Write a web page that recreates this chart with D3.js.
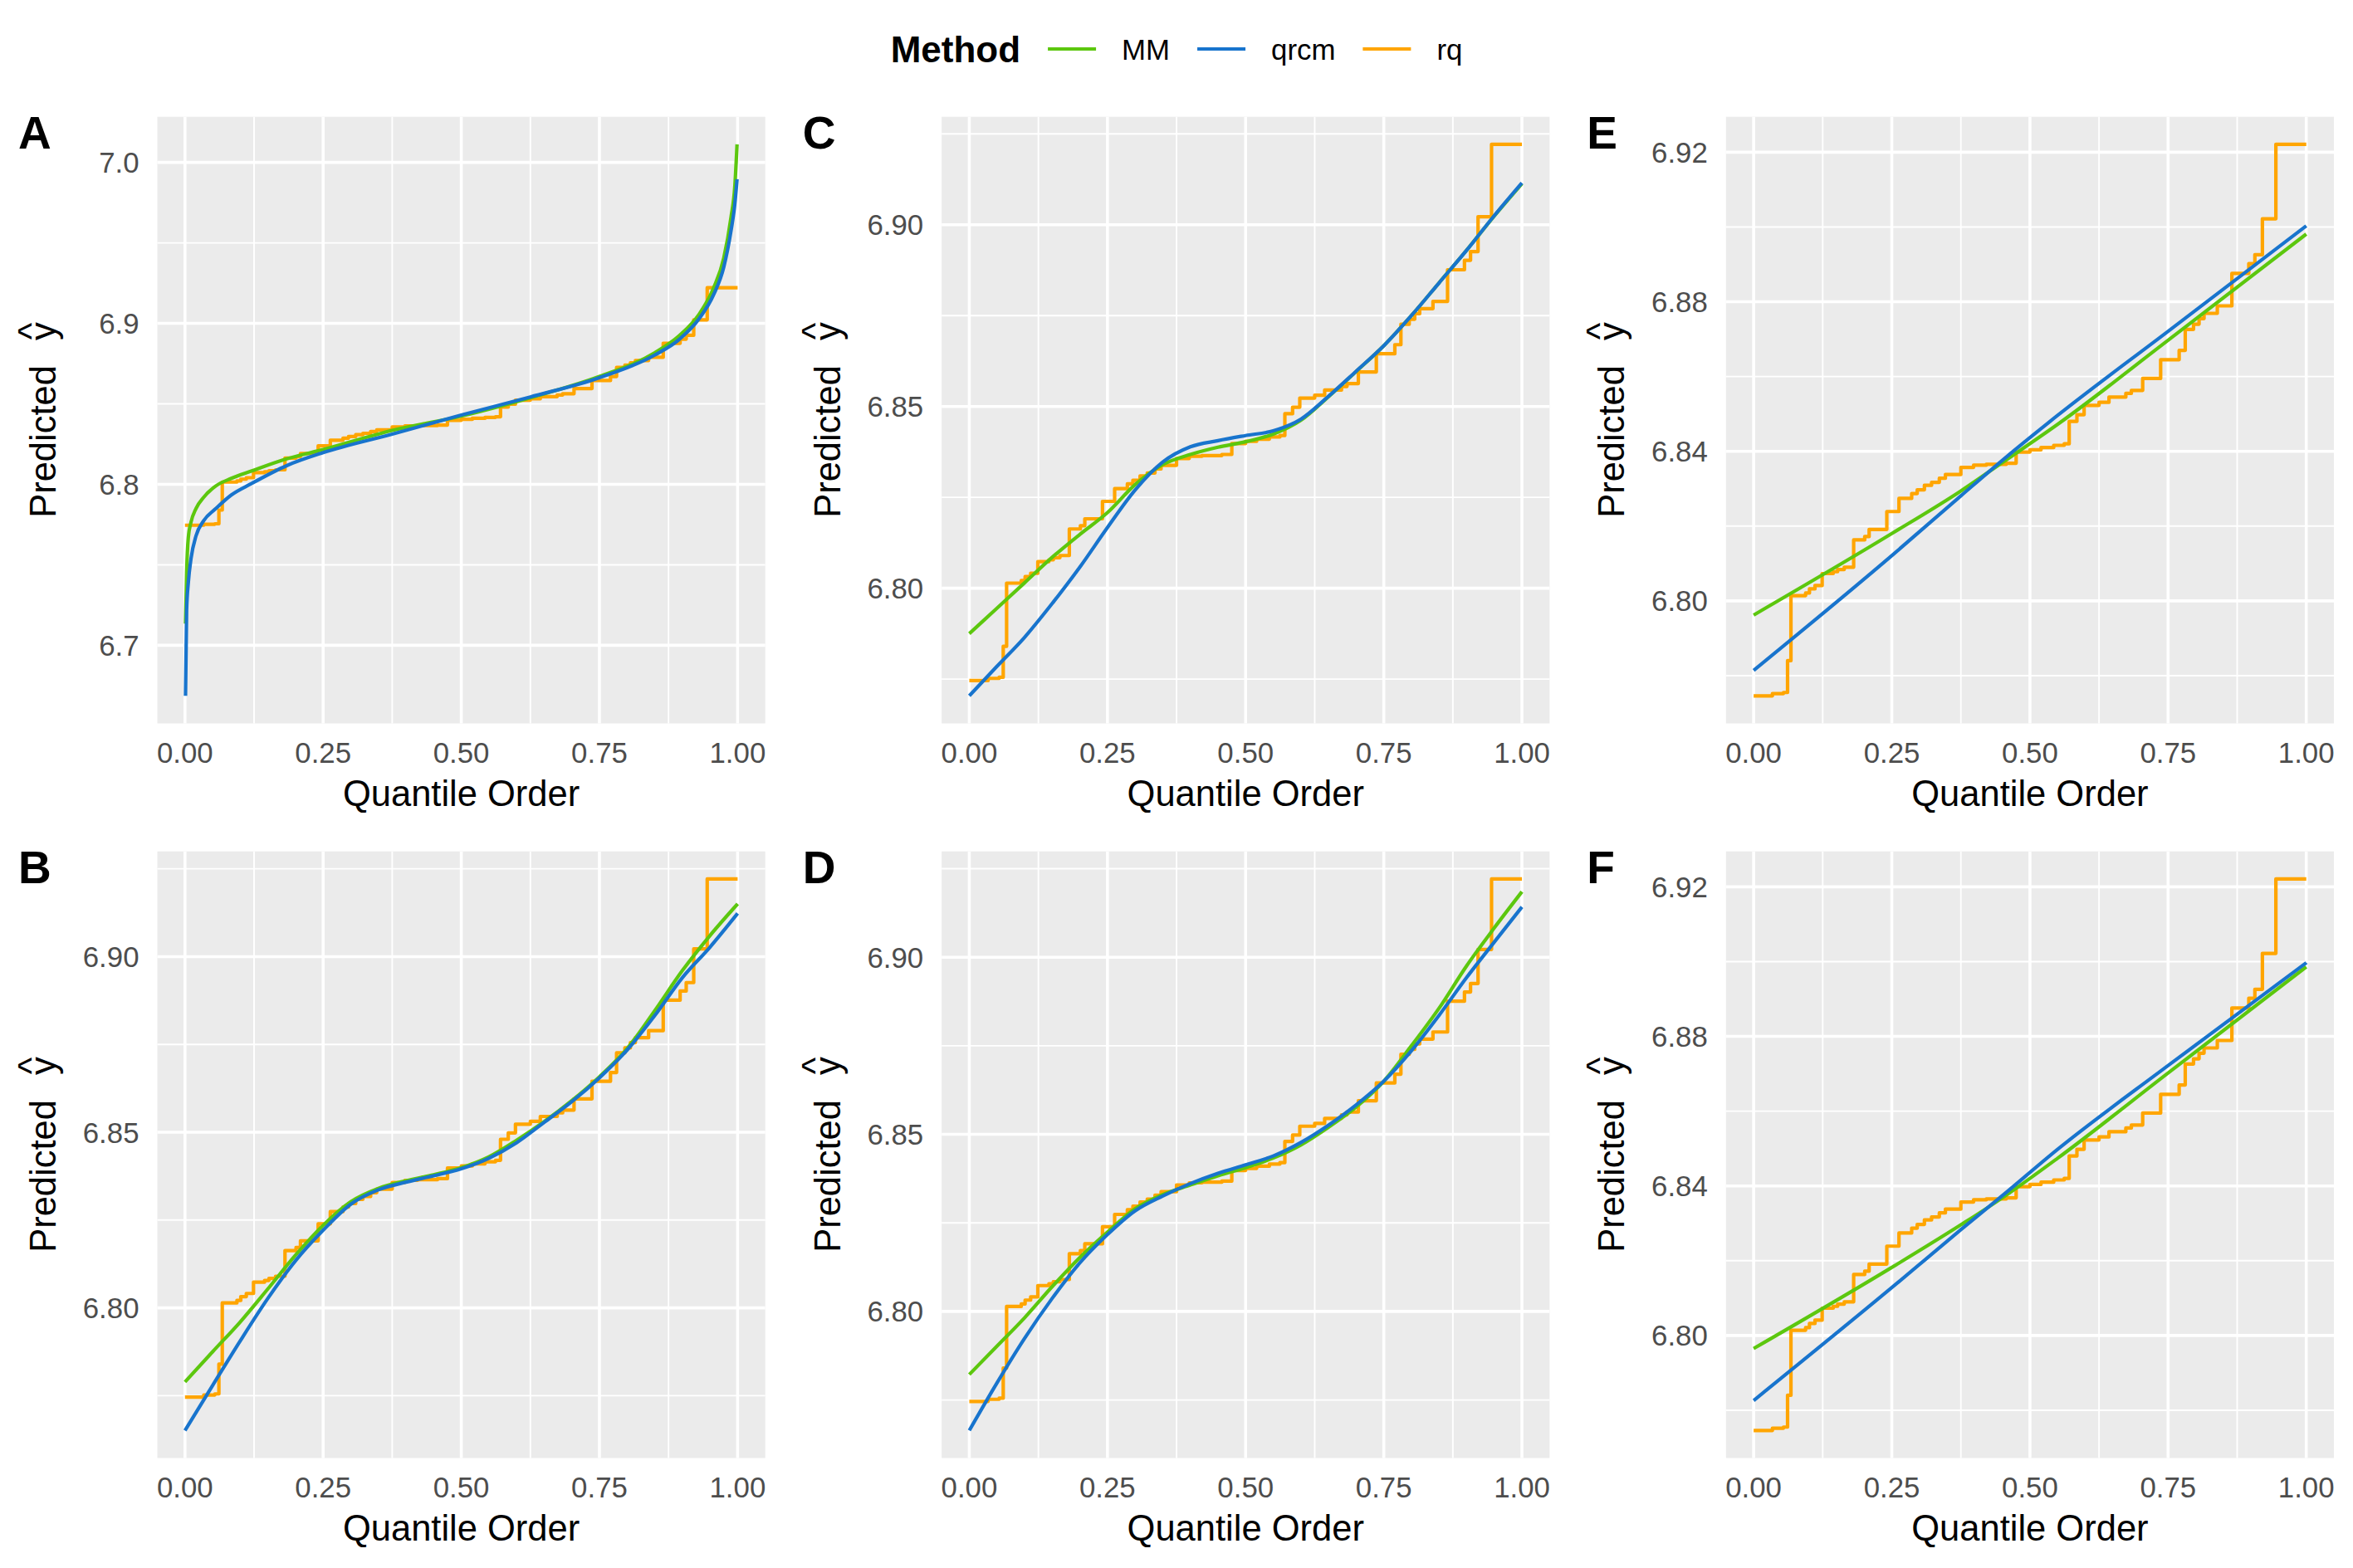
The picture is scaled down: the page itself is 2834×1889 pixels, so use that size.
<!DOCTYPE html>
<html>
<head>
<meta charset="utf-8">
<script src="https://cdn.jsdelivr.net/npm/d3@7"></script>
<style>
  body { margin: 0; background: #ffffff; }
  svg { display: block; }
  text { font-family: "Liberation Sans", Arial, Helvetica, sans-serif; }
</style>
</head>
<body>
<svg id="chart" width="2834" height="1889"></svg>
<script>
// ---------------- DATA ----------------
const methods = ["MM", "qrcm", "rq"];
const legendTitle = "Method";
const panelLabels = ["A", "B", "C", "D", "E", "F"];
const xAxisTitle = "Quantile Order";

const xTickValues = [0, 0.25, 0.5, 0.75, 1];
const xTickLabels = ["0.00", "0.25", "0.50", "0.75", "1.00"];
const xMinorValues = [0.125, 0.375, 0.625, 0.875];

const yTicksA = [6.7, 6.8, 6.9, 7.0];
const yTickLabelsA = ["6.7", "6.8", "6.9", "7.0"];
const yMinorA = [6.65, 6.75, 6.85, 6.95];
const yTicksBCD = [6.80, 6.85, 6.90];
const yTickLabelsBCD = ["6.80", "6.85", "6.90"];
const yMinorBCD = [6.775, 6.825, 6.875, 6.925];
const yTicksEF = [6.80, 6.84, 6.88, 6.92];
const yTickLabelsEF = ["6.80", "6.84", "6.88", "6.92"];
const yMinorEF = [6.78, 6.82, 6.86, 6.90];

// rq : step function (same in every panel)
const rqTau = [0, 0.034, 0.054, 0.0614, 0.0675, 0.094, 0.101, 0.111, 0.124, 0.144,
  0.152, 0.164, 0.181, 0.201, 0.209, 0.241, 0.263, 0.286, 0.296, 0.309,
  0.322, 0.336, 0.347, 0.375, 0.398, 0.421, 0.457, 0.475, 0.500, 0.520,
  0.543, 0.562, 0.571, 0.585, 0.598, 0.625, 0.643, 0.6735, 0.6835, 0.704,
  0.7365, 0.770, 0.781, 0.796, 0.806, 0.815, 0.839, 0.8654, 0.896, 0.907,
  0.9206, 0.945, 1.0];
const rqVal = [6.7746, 6.7752, 6.7755, 6.7840, 6.8014, 6.8021, 6.8032, 6.8041, 6.8073, 6.8078,
  6.8084, 6.8090, 6.8163, 6.8172, 6.8191, 6.8239, 6.8274, 6.8287, 6.8297, 6.8309,
  6.8317, 6.8328, 6.8338, 6.8357, 6.8363, 6.8365, 6.8368, 6.8398, 6.8404, 6.8410,
  6.8416, 6.8420, 6.8480, 6.8498, 6.8523, 6.8531, 6.8545, 6.8555, 6.8563, 6.8595,
  6.8645, 6.8670, 6.8726, 6.8740, 6.8755, 6.8769, 6.8789, 6.8876, 6.8902, 6.8926,
  6.9022, 6.9221, 6.9221];

// Panel A
const tauA = [0.001, 0.003, 0.006, 0.011, 0.02, 0.034, 0.056, 0.084, 0.12, 0.184, 0.25, 0.375,
  0.5, 0.625, 0.75, 0.85, 0.895, 0.93, 0.957, 0.975, 0.988, 0.995, 0.999];
const mmA = [6.7135, 6.745, 6.7667, 6.7766, 6.785, 6.792, 6.799, 6.8037, 6.8082, 6.8158, 6.8216, 6.8335,
  6.8424, 6.8538, 6.8670, 6.8817, 6.8925, 6.9055, 6.9223, 6.9406, 6.9658, 6.9854, 7.0112];
const qrcmA = [6.6686, 6.722, 6.7387, 6.7540, 6.7680, 6.7775, 6.7850, 6.7934, 6.8004, 6.8116, 6.8197, 6.8312,
  6.8430, 6.8543, 6.8663, 6.8803, 6.8902, 6.9027, 6.9181, 6.9350, 6.9574, 6.9742, 6.9896];

// Panels B, C, D
const tauGrid = [0, 0.05, 0.10, 0.15, 0.20, 0.25, 0.30, 0.35, 0.40, 0.45, 0.50,
  0.55, 0.60, 0.65, 0.70, 0.75, 0.80, 0.85, 0.90, 0.95, 1.00];
const mmB = [6.7789, 6.7875, 6.7960, 6.8054, 6.8150, 6.8235, 6.8302, 6.8340, 6.8362, 6.8379, 6.8399,
  6.8430, 6.8477, 6.8530, 6.8590, 6.8658, 6.8738, 6.8846, 6.8960, 6.9060, 6.9150];
const qrcmB = [6.7651, 6.7779, 6.7906, 6.8027, 6.8134, 6.8221, 6.8295, 6.8336, 6.8358, 6.8376, 6.8396,
  6.8426, 6.8470, 6.8528, 6.8587, 6.8655, 6.8734, 6.8832, 6.8940, 6.9027, 6.9123];
const mmC = [6.7875, 6.7945, 6.8015, 6.8085, 6.8148, 6.8208, 6.8285, 6.8340, 6.8368, 6.8388, 6.8403,
  6.8424, 6.8462, 6.8527, 6.8596, 6.8667, 6.8750, 6.8840, 6.8930, 6.9024, 6.9113];
const qrcmC = [6.7704, 6.7785, 6.7865, 6.7958, 6.8058, 6.8167, 6.8270, 6.8347, 6.8389, 6.8406, 6.8420,
  6.8433, 6.8465, 6.8528, 6.8597, 6.8667, 6.8750, 6.8840, 6.8930, 6.9025, 6.9115];
const mmD = [6.7822, 6.7902, 6.7982, 6.8070, 6.8152, 6.8224, 6.8290, 6.8330, 6.8357, 6.8383, 6.8406,
  6.8433, 6.8470, 6.8520, 6.8577, 6.8650, 6.8750, 6.8856, 6.8976, 6.9083, 6.9185];
const qrcmD = [6.7664, 6.7798, 6.7924, 6.8037, 6.8137, 6.8217, 6.8284, 6.8326, 6.8361, 6.8390, 6.8414,
  6.8439, 6.8477, 6.8526, 6.8583, 6.8650, 6.8736, 6.8836, 6.8943, 6.9043, 6.9142];

// Panels E, F
const tauEF = [0, 0.25, 0.375, 0.45, 0.55, 0.75, 1];
const mmE = [6.7962, 6.8180, 6.8294, 6.8370, 6.8472, 6.8697, 6.8981];
const qrcmE = [6.7814, 6.8121, 6.8281, 6.8376, 6.8496, 6.8721, 6.9003];
const mmF = [6.7965, 6.8182, 6.8296, 6.8368, 6.8474, 6.8702, 6.8986];
const qrcmF = [6.7826, 6.8128, 6.8283, 6.8374, 6.8498, 6.8722, 6.8997];

// ---------------- STYLE / LAYOUT ----------------
const colors = { MM: "#5CC70E", qrcm: "#1874CD", rq: "#FFA500" };
const W = 2834, H = 1889;
const colW = W / 3;
const legendH = 119;
const rowH = (H - legendH) / 2;
const PL = 189.5, PR = colW - 23, PT = 21.7, PB = 752.5;
const fsTick = 34.8, fsTitle = 43.5, fsTag = 55, fsLegTitle = 44, fsLegText = 34.8;
const lineW = 4.2, gridMajorW = 3.6, gridMinorW = 1.9;

const panels = [
  { label: panelLabels[0], col: 0, row: 0, tau: tauA, mm: mmA, qrcm: qrcmA, yt: yTicksA, ytl: yTickLabelsA, ym: yMinorA },
  { label: panelLabels[1], col: 0, row: 1, tau: tauGrid, mm: mmB, qrcm: qrcmB, yt: yTicksBCD, ytl: yTickLabelsBCD, ym: yMinorBCD },
  { label: panelLabels[2], col: 1, row: 0, tau: tauGrid, mm: mmC, qrcm: qrcmC, yt: yTicksBCD, ytl: yTickLabelsBCD, ym: yMinorBCD },
  { label: panelLabels[3], col: 1, row: 1, tau: tauGrid, mm: mmD, qrcm: qrcmD, yt: yTicksBCD, ytl: yTickLabelsBCD, ym: yMinorBCD },
  { label: panelLabels[4], col: 2, row: 0, tau: tauEF, mm: mmE, qrcm: qrcmE, yt: yTicksEF, ytl: yTickLabelsEF, ym: yMinorEF },
  { label: panelLabels[5], col: 2, row: 1, tau: tauEF, mm: mmF, qrcm: qrcmF, yt: yTicksEF, ytl: yTickLabelsEF, ym: yMinorEF }
];

const svg = d3.select("#chart");
svg.append("rect").attr("width", W).attr("height", H).attr("fill", "#ffffff");

const rqData = rqTau.map((t, i) => ({ t: t, v: rqVal[i] }));

panels.forEach(p => {
  const g = svg.append("g")
    .attr("transform", `translate(${p.col * colW},${legendH + p.row * rowH})`);

  const mmData = p.tau.map((t, i) => ({ t: t, v: p.mm[i] }));
  const qrData = p.tau.map((t, i) => ({ t: t, v: p.qrcm[i] }));
  const all = mmData.concat(qrData, rqData).map(d => d.v);
  const [lo, hi] = d3.extent(all);
  const pad = (hi - lo) * 0.05;

  const x = d3.scaleLinear().domain([-0.05, 1.05]).range([PL, PR]);
  const y = d3.scaleLinear().domain([lo - pad, hi + pad]).range([PB, PT]);

  // panel background
  g.append("rect").attr("x", PL).attr("y", PT)
    .attr("width", PR - PL).attr("height", PB - PT).attr("fill", "#EBEBEB");

  // minor grid
  const yMinor = p.ym.filter(v => v > y.domain()[0] && v < y.domain()[1]);
  g.selectAll(".ymin").data(yMinor).enter().append("line")
    .attr("x1", PL).attr("x2", PR).attr("y1", d => y(d)).attr("y2", d => y(d))
    .attr("stroke", "#ffffff").attr("stroke-width", gridMinorW);
  g.selectAll(".xmin").data(xMinorValues).enter().append("line")
    .attr("y1", PT).attr("y2", PB).attr("x1", d => x(d)).attr("x2", d => x(d))
    .attr("stroke", "#ffffff").attr("stroke-width", gridMinorW);
  // major grid
  g.selectAll(".ymaj").data(p.yt).enter().append("line")
    .attr("x1", PL).attr("x2", PR).attr("y1", d => y(d)).attr("y2", d => y(d))
    .attr("stroke", "#ffffff").attr("stroke-width", gridMajorW);
  g.selectAll(".xmaj").data(xTickValues).enter().append("line")
    .attr("y1", PT).attr("y2", PB).attr("x1", d => x(d)).attr("x2", d => x(d))
    .attr("stroke", "#ffffff").attr("stroke-width", gridMajorW);

  // lines
  const smooth = d3.line().x(d => x(d.t)).y(d => y(d.v)).curve(d3.curveMonotoneX);
  const step = d3.line().x(d => x(d.t)).y(d => y(d.v)).curve(d3.curveStepAfter);

  g.append("path").attr("d", step(rqData)).attr("fill", "none")
    .attr("stroke", colors.rq).attr("stroke-width", lineW).attr("stroke-linejoin", "round");
  g.append("path").attr("d", smooth(mmData)).attr("fill", "none")
    .attr("stroke", colors.MM).attr("stroke-width", lineW).attr("stroke-linejoin", "round");
  g.append("path").attr("d", smooth(qrData)).attr("fill", "none")
    .attr("stroke", colors.qrcm).attr("stroke-width", lineW).attr("stroke-linejoin", "round");

  // y tick labels
  g.selectAll(".ytl").data(p.yt).enter().append("text")
    .attr("x", PL - 22).attr("y", d => y(d)).attr("dy", "0.36em")
    .attr("text-anchor", "end").attr("font-size", fsTick).attr("fill", "#4D4D4D")
    .text((d, i) => p.ytl[i]);

  // x tick labels
  g.selectAll(".xtl").data(xTickValues).enter().append("text")
    .attr("x", d => x(d)).attr("y", PB + 47)
    .attr("text-anchor", "middle").attr("font-size", fsTick).attr("fill", "#4D4D4D")
    .text((d, i) => xTickLabels[i]);

  // x title
  g.append("text").attr("x", (PL + PR) / 2).attr("y", PB + 99)
    .attr("text-anchor", "middle").attr("font-size", fsTitle).attr("fill", "#000000")
    .text(xAxisTitle);

  // y title: Predicted  y-hat
  const yt = g.append("text")
    .attr("transform", `translate(67,${(PT + PB) / 2}) rotate(-90)`)
    .attr("text-anchor", "middle").attr("font-size", fsTitle).attr("fill", "#000000");
  yt.append("tspan").text("Predicted");
  yt.append("tspan").attr("dx", 30).text("y");
  yt.append("tspan").attr("dx", -21).attr("dy", -14.5).text("^");

  // panel tag
  g.append("text").attr("x", 22).attr("y", 60)
    .attr("font-size", fsTag).attr("font-weight", "bold").attr("fill", "#000000")
    .text(p.label);
});

// ---------------- LEGEND ----------------
const leg = svg.append("g");
const legY = 59;
const keyW = 58, gapAfterTitle = 33, gapKeyText = 31, gapTextKey = 33;
const tTitle = leg.append("text").attr("y", legY).attr("dy", "0.36em")
  .attr("font-size", fsLegTitle).attr("font-weight", "bold").text(legendTitle);
const items = methods.map(m => {
  const t = leg.append("text").attr("y", legY).attr("dy", "0.36em")
    .attr("font-size", fsLegText).attr("fill", "#000000").text(m);
  const k = leg.append("line").attr("y1", legY).attr("y2", legY)
    .attr("stroke", colors[m]).attr("stroke-width", lineW);
  return { t, k, w: t.node().getComputedTextLength() };
});
const titleW = tTitle.node().getComputedTextLength();
let total = titleW;
items.forEach((it, i) => { total += (i === 0 ? gapAfterTitle : gapTextKey) + keyW + gapKeyText + it.w; });
let cx = W / 2 - total / 2;
tTitle.attr("x", cx);
cx += titleW;
items.forEach((it, i) => {
  cx += (i === 0 ? gapAfterTitle : gapTextKey);
  it.k.attr("x1", cx).attr("x2", cx + keyW);
  cx += keyW + gapKeyText;
  it.t.attr("x", cx);
  cx += it.w;
});
</script>
</body>
</html>
